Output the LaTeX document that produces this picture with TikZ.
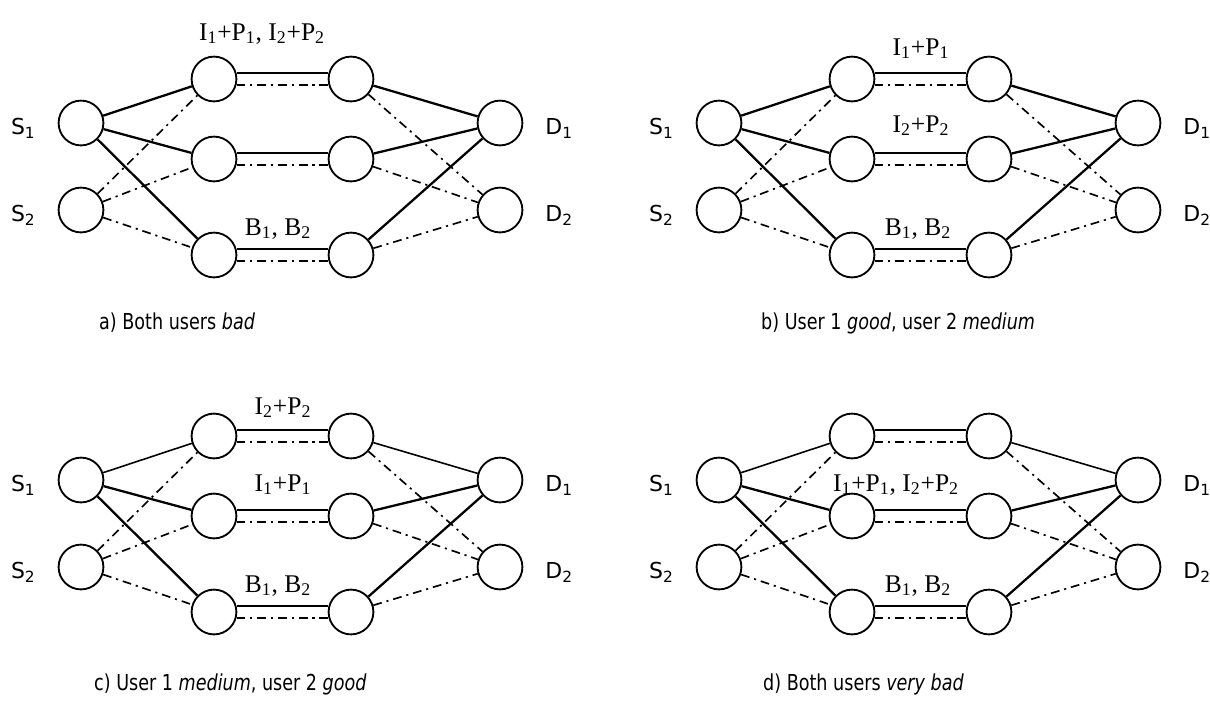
\documentclass[tikz,border=0pt]{standalone}
\usepackage{fontspec}
\setmainfont{Liberation Serif}
\newfontfamily\labfont{DejaVu Sans}
\newfontfamily\capfont[FakeStretch=0.8]{DejaVu Sans}
\usetikzlibrary{positioning}

\tikzset{
    relay/.style={circle, draw, line width=1.05pt, minimum size=25.5pt, inner sep=0pt},
    good/.style={line width=1.3pt},
    dashdot/.style={line width=0.95pt, dash pattern=on 5pt off 2.8pt on 1.2pt off 2.8pt},
    endlabel/.style={font=\labfont\fontsize{12.5}{14}\selectfont},
    chanlabel/.style={font=\fontsize{14.5}{16}\selectfont, anchor=base},
    caption/.style={font=\capfont\fontsize{12.5}{14}\selectfont, anchor=base west}
}

\begin{document}
\begin{tikzpicture}[x=0.02cm, y=-0.02cm]
    \useasboundingbox (0,0) rectangle (1210,701);
    \foreach \p/\dx/\dy/\wt in {a/0/0/1.3pt, b/638/0/1.3pt, c/0/357/0.9pt, d/638/357/0.9pt} {
        \begin{scope}[shift={(\dx,\dy)}]
            % nodes
            \node[relay] (\p s1) at (81,123) {};
            \node[relay] (\p s2) at (81,210) {};
            \node[relay] (\p t1) at (214,79) {};
            \node[relay] (\p t2) at (351,79) {};
            \node[relay] (\p m1) at (214,159) {};
            \node[relay] (\p m2) at (351,159) {};
            \node[relay] (\p b1) at (214,255) {};
            \node[relay] (\p b2) at (351,255) {};
            \node[relay] (\p d1) at (500,123) {};
            \node[relay] (\p d2) at (500,210) {};
            \node[endlabel, left=9pt of \p s1, yshift=-3pt] (\p ls1) {S\textsubscript{1}};
            \node[endlabel, left=9pt of \p s2, yshift=-3pt] (\p ls2) {S\textsubscript{2}};
            \node[endlabel, right=9pt of \p d1, yshift=-3pt] (\p ld1) {D\textsubscript{1}};
            \node[endlabel, right=9pt of \p d2, yshift=-3pt] (\p ld2) {D\textsubscript{2}};
            % user 1
            \draw[line width=\wt] (\p s1) -- (\p t1);
            \draw[good] (\p s1) -- (\p m1);
            \draw[good] (\p s1) -- (\p b1);
            \draw[line width=\wt] (\p t2) -- (\p d1);
            \draw[good] (\p m2) -- (\p d1);
            \draw[good] (\p b2) -- (\p d1);
            % user 2
            \draw[dashdot] (\p s2) -- (\p t1);
            \draw[dashdot] (\p s2) -- (\p m1);
            \draw[dashdot] (\p s2) -- (\p b1);
            \draw[dashdot] (\p t2) -- (\p d2);
            \draw[dashdot] (\p m2) -- (\p d2);
            \draw[dashdot] (\p b2) -- (\p d2);
            % relay links
            \foreach \r in {t, m, b} {
                \draw[good] (\p\r1.15) -- (\p\r2.165);
                \draw[dashdot] (\p\r1.-15) -- (\p\r2.-165);
            }
        \end{scope}
    }
    % channel labels
    \node[chanlabel] (alt) at (262,40) {I\textsubscript{1}+P\textsubscript{1}, I\textsubscript{2}+P\textsubscript{2}};
    \node[chanlabel] (alb) at (278,235) {B\textsubscript{1}, B\textsubscript{2}};
    \node[chanlabel] (blt) at (921,55) {I\textsubscript{1}+P\textsubscript{1}};
    \node[chanlabel] (blm) at (921,132) {I\textsubscript{2}+P\textsubscript{2}};
    \node[chanlabel] (blb) at (918,235) {B\textsubscript{1}, B\textsubscript{2}};
    \node[chanlabel] (clt) at (283,414) {I\textsubscript{2}+P\textsubscript{2}};
    \node[chanlabel] (clm) at (283,491) {I\textsubscript{1}+P\textsubscript{1}};
    \node[chanlabel] (clb) at (278,592) {B\textsubscript{1}, B\textsubscript{2}};
    \node[chanlabel] (dlm) at (896,491) {I\textsubscript{1}+P\textsubscript{1}, I\textsubscript{2}+P\textsubscript{2}};
    \node[chanlabel] (dlb) at (918,592) {B\textsubscript{1}, B\textsubscript{2}};
    % captions
    \node[caption] (capa) at (93,329) {a) Both users \textit{bad}};
    \node[caption] (capb) at (755,329) {b) User 1 \textit{good}, user 2 \textit{medium}};
    \node[caption] (capc) at (88,690) {c) User 1 \textit{medium}, user 2 \textit{good}};
    \node[caption] (capd) at (757,690) {d) Both users \textit{very bad}};
\end{tikzpicture}
\end{document}
